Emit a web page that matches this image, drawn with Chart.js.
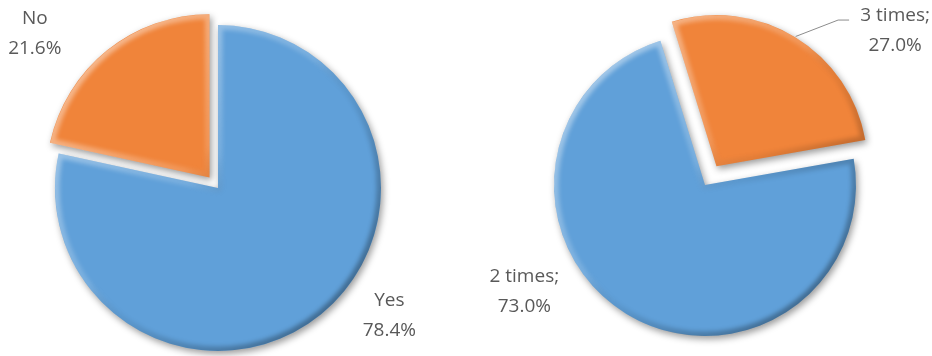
<!DOCTYPE html>
<html>
<head>
<meta charset="utf-8">
<script src="https://cdn.jsdelivr.net/npm/chart.js@4.4.0/dist/chart.umd.min.js"></script>
<style>
  html, body { margin: 0; padding: 0; background: #fff; }
  body { width: 932px; height: 356px; position: relative; overflow: hidden; }
  .box { position: absolute; }
  #left { left: 0; top: 0; width: 436px; height: 376px; }
  #right { left: 478px; top: 0; width: 454px; height: 370px; }
</style>
</head>
<body>
<div class="box" id="left"><canvas id="chartAnswer"></canvas></div>
<div class="box" id="right"><canvas id="chartTimes"></canvas></div>
<script>
// data
var answerLabels = ['Yes', 'No'];
var answerValues = [78.4, 21.6];
var timesLabels = ['2 times', '3 times'];
var timesValues = [73.0, 27.0];

var blue = '#60A0D9';
var orange = '#F0843A';

// Chart.js v4 moves an exploded arc by offset / 4
function arcShift(arc) {
    return (arc.options.offset || 0) / 4;
}

// soft drop shadow under the slices
var softShadow = {
    id: 'softShadow',
    beforeDatasetsDraw: function(chart) {
        var c = chart.ctx;
        c.save();
        c.shadowColor = 'rgba(0,0,0,0.4)';
        c.shadowBlur = 7;
        c.shadowOffsetX = 2;
        c.shadowOffsetY = 3;
    },
    afterDatasetsDraw: function(chart) {
        chart.ctx.restore();
    }
};

// rough bevel: light top-left rim, dark bottom-right rim
var bevel = {
    id: 'bevel',
    afterDatasetsDraw: function(chart) {
        var ctx = chart.ctx;
        chart.getDatasetMeta(0).data.forEach(function(arc) {
            var p = arc.getProps(['x', 'y', 'startAngle', 'endAngle', 'outerRadius']);
            var mid = (p.startAngle + p.endAngle) / 2;
            var s = arcShift(arc);
            var cx = p.x + Math.cos(mid) * s;
            var cy = p.y + Math.sin(mid) * s;
            var r = p.outerRadius;
            ctx.save();
            ctx.beginPath();
            ctx.moveTo(cx, cy);
            ctx.arc(cx, cy, r, p.startAngle, p.endAngle);
            ctx.closePath();
            ctx.clip();
            var g = ctx.createLinearGradient(cx - r, cy - r, cx + r, cy + r);
            g.addColorStop(0, 'rgba(255,255,255,0.55)');
            g.addColorStop(0.45, 'rgba(255,255,255,0.15)');
            g.addColorStop(0.55, 'rgba(0,0,0,0.05)');
            g.addColorStop(1, 'rgba(0,0,0,0.45)');
            ctx.filter = 'blur(2px)';
            ctx.strokeStyle = g;
            ctx.lineWidth = 9;
            ctx.lineJoin = 'round';
            ctx.stroke();
            ctx.restore();
        });
    }
};

// two-line labels outside the pie
var pieLabels = {
    id: 'pieLabels',
    afterDatasetsDraw: function(chart, args, opts) {
        var ctx = chart.ctx;
        var meta = chart.getDatasetMeta(0);
        var data = chart.data.datasets[0].data;
        ctx.save();
        ctx.font = '19px "Open Sans"';
        ctx.fillStyle = '#595959';
        ctx.textAlign = 'center';
        ctx.textBaseline = 'middle';
        meta.data.forEach(function(arc, i) {
            var p = arc.getProps(['x', 'y', 'startAngle', 'endAngle', 'outerRadius']);
            var place = opts.place[i];
            var mid = (p.startAngle + p.endAngle) / 2;
            var a = mid + place.turn * Math.PI / 180;
            var r = p.outerRadius * place.dist;
            var lx = p.x + Math.cos(a) * r;
            var ly = p.y + Math.sin(a) * r;
            ctx.fillText(chart.data.labels[i] + opts.sep, lx, ly - 15);
            ctx.fillText(data[i].toFixed(1) + '%', lx, ly + 15);
            if (place.leader) {
                var s = arcShift(arc) + p.outerRadius + 1;
                var ex = p.x + Math.cos(mid) * s;
                var ey = p.y + Math.sin(mid) * s;
                ctx.strokeStyle = '#8c8c8c';
                ctx.lineWidth = 1;
                ctx.beginPath();
                ctx.moveTo(ex, ey);
                ctx.lineTo(lx - 57, ly - 11);
                ctx.lineTo(lx - 46, ly - 11);
                ctx.stroke();
            }
        });
        ctx.restore();
    }
};

function makePie(id, labels, values, rotation, radius, offset, sep, place) {
    var ctx = document.getElementById(id).getContext('2d');
    return new Chart(ctx, {
        type: 'pie',
        data: {
            labels: labels,
            datasets: [{
                data: values,
                backgroundColor: [blue, orange],
                borderWidth: 0,
                offset: [0, offset]
            }]
        },
        options: {
            responsive: true,
            maintainAspectRatio: false,
            animation: false,
            rotation: rotation,
            radius: radius,
            layout: { padding: 0 },
            plugins: {
                legend: { display: false },
                tooltip: { enabled: false },
                pieLabels: { sep: sep, place: place }
            }
        },
        plugins: [softShadow, bevel, pieLabels]
    });
}

var chart = makePie('chartAnswer', answerLabels, answerValues, 0, 163, 54, '', [
    { turn: -14.5, dist: 1.31 },
    { turn: -11, dist: 1.47 }
]);

var chart2 = makePie('chartTimes', timesLabels, timesValues, 80, 151, 88, ';', [
    { turn: 28, dist: 1.39 },
    { turn: 19.6, dist: 1.62, leader: true }
]);
</script>
</body>
</html>
